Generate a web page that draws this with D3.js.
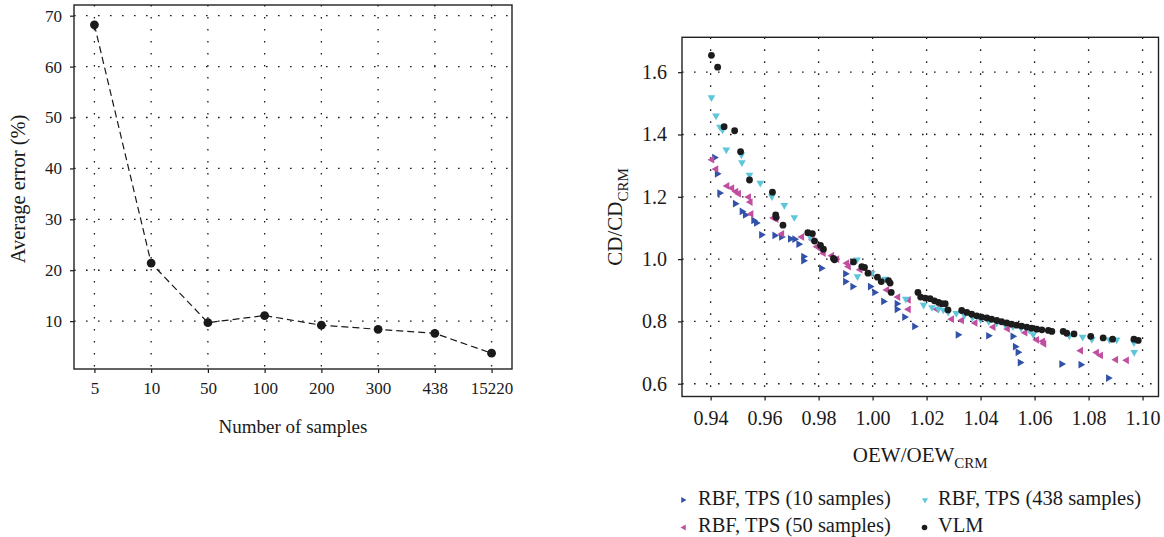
<!DOCTYPE html>
<html>
<head>
<meta charset="utf-8">
<script src="https://cdn.jsdelivr.net/npm/d3@7"></script>
<style>
  html, body { margin: 0; padding: 0; background: #fff; }
  svg { display: block; }
  text { font-family: "Liberation Serif", "Times New Roman", serif; fill: #1a1a1a; }
</style>
</head>
<body>
<svg id="chart" width="1164" height="537"></svg>
<script>
// ---------------- DATA ----------------
const sampleCategories = ["5", "10", "50", "100", "200", "300", "438", "15220"];
const averageErrors = [68.2, 21.4, 9.7, 11.1, 9.2, 8.4, 7.6, 3.7];
const errorTicks = [10, 20, 30, 40, 50, 60, 70];

const oewTicks = [0.94, 0.96, 0.98, 1.00, 1.02, 1.04, 1.06, 1.08, 1.10];
const cdTicks = [0.6, 0.8, 1.0, 1.2, 1.4, 1.6];

const rbf10 = [
  [0.9414,1.326],[0.9424,1.274],[0.9433,1.212],[0.9491,1.178],[0.9516,1.153],[0.9528,1.142],
  [0.9559,1.124],[0.9569,1.116],[0.9588,1.078],[0.9637,1.076],[0.9662,1.071],[0.9695,1.065],
  [0.9711,1.064],[0.9726,1.048],[0.9744,1.008],[0.9744,0.995],[0.9810,0.971],[0.9899,0.953],
  [0.9899,0.928],[0.9926,0.912],[0.9991,0.912],[1.0007,0.893],[1.0040,0.864],[1.0090,0.857],
  [1.0090,0.839],[1.0118,0.814],[1.0155,0.784],[1.0316,0.757],[1.0429,0.754],[1.0519,0.752],
  [1.0528,0.719],[1.0538,0.701],[1.0546,0.668],[1.0700,0.663],[1.0771,0.661],[1.0873,0.618]
];
const rbf50 = [
  [0.9405,1.319],[0.9420,1.289],[0.9461,1.235],[0.9479,1.228],[0.9494,1.217],[0.9504,1.210],
  [0.9541,1.199],[0.9547,1.183],[0.9550,1.145],[0.9633,1.132],[0.9643,1.128],[0.9664,1.081],
  [0.9738,1.071],[0.9777,1.062],[0.9794,1.040],[0.9812,1.030],[0.9818,1.019],[0.9849,1.011],
  [0.9868,1.000],[0.9905,0.987],[0.9911,0.976],[0.9954,0.966],[0.9997,0.955],[1.0053,0.901],
  [1.0094,0.878],[1.0133,0.869],[1.0133,0.839],[1.0238,0.839],[1.0293,0.807],[1.0330,0.803],
  [1.0380,0.795],[1.0447,0.782],[1.0500,0.776],[1.0565,0.764],[1.0608,0.741],[1.0630,0.736],
  [1.0635,0.728],[1.0771,0.706],[1.0830,0.700],[1.0845,0.691],[1.0901,0.677],[1.0941,0.675]
];
const rbf438 = [
  [0.9403,1.519],[0.9420,1.460],[0.9435,1.424],[0.9444,1.415],[0.9458,1.351],[0.9514,1.335],
  [0.9516,1.310],[0.9544,1.270],[0.9584,1.244],[0.9627,1.201],[0.9673,1.173],[0.9710,1.134],
  [0.9769,1.071],[0.9942,0.998],[0.9944,0.944],[0.9997,0.955],[1.0047,0.936],[1.0123,0.872],
  [1.0189,0.853],[1.0220,0.845],[1.0244,0.840],[1.0262,0.837],[1.0280,0.830],[1.0310,0.826],
  [1.0340,0.820],[1.0370,0.813],[1.0400,0.806],[1.0430,0.800],[1.0460,0.795],[1.0490,0.790],
  [1.0520,0.784],[1.0550,0.779],[1.0580,0.772],[1.0595,0.758],[1.0729,0.754],[1.0778,0.750],
  [1.0812,0.743],[1.0877,0.741],[1.0904,0.741],[1.0968,0.732],[1.0969,0.701]
];
const vlm = [
  [0.9403,1.654],[0.9426,1.616],[0.9450,1.425],[0.9489,1.412],[0.9511,1.345],[0.9544,1.254],
  [0.9629,1.215],[0.9641,1.142],[0.9643,1.134],[0.9668,1.109],[0.9760,1.085],[0.9777,1.082],
  [0.9785,1.058],[0.9807,1.044],[0.9818,1.032],[0.9855,1.002],[0.9859,0.998],[0.9929,0.991],
  [0.9960,0.976],[0.9970,0.973],[0.9983,0.955],[1.0018,0.942],[1.0032,0.928],[1.0059,0.931],
  [1.0065,0.923],[1.0069,0.893],[1.0168,0.893],[1.0178,0.878],[1.0195,0.875],[1.0213,0.873],
  [1.0229,0.866],[1.0244,0.861],[1.0256,0.857],[1.0269,0.857],[1.0279,0.837],[1.0330,0.835],
  [1.0349,0.829],[1.0367,0.823],[1.0386,0.818],[1.0404,0.814],[1.0423,0.811],[1.0441,0.807],
  [1.0460,0.803],[1.0478,0.799],[1.0497,0.795],[1.0515,0.791],[1.0534,0.788],[1.0552,0.785],
  [1.0571,0.782],[1.0589,0.778],[1.0608,0.775],[1.0627,0.773],[1.0651,0.771],[1.0664,0.768],
  [1.0706,0.768],[1.0719,0.762],[1.0746,0.760],[1.0808,0.752],[1.0854,0.747],[1.0889,0.743],
  [1.0968,0.743],[1.0984,0.739]
];

const seriesNames = ["RBF, TPS (10 samples)", "RBF, TPS (50 samples)", "RBF, TPS (438 samples)", "VLM"];
const seriesColors = ["#3251a8", "#c04fa0", "#5ec6da", "#1c1c1c"];

// ---------------- DRAW ----------------
const svg = d3.select("#chart");
const ink = "#1a1a1a";
const gridDash = "1.6 10.4";

// ===== Left chart =====
const L = { left: 74, right: 512, top: 5, bottom: 369 };
const xL = d3.scalePoint().domain(sampleCategories).range([L.left, L.right]).padding(0.36);
const yL = d3.scaleLinear().domain([0.6, 72.1]).range([L.bottom, L.top]);

const gL = svg.append("g");
gL.selectAll(".vg").data(sampleCategories).join("line")
  .attr("x1", d => xL(d)).attr("x2", d => xL(d))
  .attr("y1", L.top).attr("y2", L.bottom)
  .attr("stroke", ink).attr("stroke-width", 1.3).attr("stroke-dasharray", gridDash);
gL.selectAll(".hg").data(errorTicks).join("line")
  .attr("x1", L.left).attr("x2", L.right)
  .attr("y1", d => yL(d)).attr("y2", d => yL(d))
  .attr("stroke", ink).attr("stroke-width", 1.3).attr("stroke-dasharray", gridDash);

const axLx = gL.append("g").attr("transform", `translate(0,${L.bottom})`)
  .call(d3.axisBottom(xL).tickSize(4).tickPadding(9).tickSizeOuter(0));
const axLy = gL.append("g").attr("transform", `translate(${L.left},0)`)
  .call(d3.axisLeft(yL).tickValues(errorTicks).tickSize(4).tickPadding(8).tickSizeOuter(0));
[axLx, axLy].forEach(a => {
  a.select(".domain").remove();
  a.selectAll("line").attr("stroke", ink).attr("stroke-width", 1.2);
  a.selectAll("text").attr("font-size", 17).attr("fill", ink)
    .attr("font-family", "'Liberation Serif', serif");
});
gL.append("rect").attr("x", L.left).attr("y", L.top)
  .attr("width", L.right - L.left).attr("height", L.bottom - L.top)
  .attr("fill", "none").attr("stroke", "#222").attr("stroke-width", 1.4);

gL.append("path")
  .datum(sampleCategories.map((c, i) => [c, averageErrors[i]]))
  .attr("fill", "none").attr("stroke", ink).attr("stroke-width", 1.2)
  .attr("stroke-dasharray", "7 4")
  .attr("d", d3.line().x(d => xL(d[0])).y(d => yL(d[1])));
gL.selectAll(".pt").data(sampleCategories.map((c, i) => [c, averageErrors[i]])).join("circle")
  .attr("cx", d => xL(d[0])).attr("cy", d => yL(d[1])).attr("r", 4.4).attr("fill", ink);

gL.append("text").attr("x", (L.left + L.right) / 2).attr("y", 433)
  .attr("text-anchor", "middle").attr("font-size", 19).text("Number of samples");
gL.append("text").attr("transform", `translate(25,${(L.top + L.bottom) / 2 + 2}) rotate(-90)`)
  .attr("text-anchor", "middle").attr("font-size", 20.5).text("Average error (%)");

// ===== Right chart =====
const R = { left: 682, right: 1158.5, top: 37.3, bottom: 396.5 };
const xR = d3.scaleLinear().domain([0.9294, 1.1059]).range([R.left, R.right]);
const yR = d3.scaleLinear().domain([0.559, 1.712]).range([R.bottom, R.top]);

const gR = svg.append("g");
gR.selectAll(".vg").data(oewTicks).join("line")
  .attr("x1", d => xR(d)).attr("x2", d => xR(d))
  .attr("y1", R.top).attr("y2", R.bottom)
  .attr("stroke", ink).attr("stroke-width", 1.3).attr("stroke-dasharray", gridDash);
gR.selectAll(".hg").data(cdTicks).join("line")
  .attr("x1", R.left).attr("x2", R.right)
  .attr("y1", d => yR(d)).attr("y2", d => yR(d))
  .attr("stroke", ink).attr("stroke-width", 1.3).attr("stroke-dasharray", gridDash);

const axRx = gR.append("g").attr("transform", `translate(0,${R.bottom})`)
  .call(d3.axisBottom(xR).tickValues(oewTicks).tickFormat(d3.format(".2f")).tickSize(4).tickPadding(10).tickSizeOuter(0));
const axRy = gR.append("g").attr("transform", `translate(${R.left},0)`)
  .call(d3.axisLeft(yR).tickValues(cdTicks).tickFormat(d3.format(".1f")).tickSize(4).tickPadding(11).tickSizeOuter(0));
[axRx, axRy].forEach(a => {
  a.select(".domain").remove();
  a.selectAll("line").attr("stroke", ink).attr("stroke-width", 1.2);
  a.selectAll("text").attr("font-size", 20).attr("fill", ink)
    .attr("font-family", "'Liberation Serif', serif");
});
gR.append("rect").attr("x", R.left).attr("y", R.top)
  .attr("width", R.right - R.left).attr("height", R.bottom - R.top)
  .attr("fill", "none").attr("stroke", "#222").attr("stroke-width", 1.4);

const tri = d3.symbol().type(d3.symbolTriangle).size(26);
const plotArea = gR.append("g");
function triangles(data, color, rot) {
  plotArea.append("g").selectAll("path").data(data).join("path")
    .attr("d", tri)
    .attr("transform", d => `translate(${xR(d[0])},${yR(d[1])}) rotate(${rot})`)
    .attr("fill", color);
}
triangles(rbf10, seriesColors[0], 90);
triangles(rbf50, seriesColors[1], -90);
triangles(rbf438, seriesColors[2], 180);
plotArea.append("g").selectAll("circle").data(vlm).join("circle")
  .attr("cx", d => xR(d[0])).attr("cy", d => yR(d[1])).attr("r", 3.4)
  .attr("fill", seriesColors[3]);

const xLab = gR.append("text").attr("x", (R.left + R.right) / 2).attr("y", 462)
  .attr("text-anchor", "middle").attr("font-size", 21);
xLab.append("tspan").text("OEW/OEW");
xLab.append("tspan").attr("font-size", 15).attr("dy", 6).text("CRM");

const yLab = gR.append("text")
  .attr("transform", `translate(621.5,${(R.top + R.bottom) / 2}) rotate(-90)`)
  .attr("text-anchor", "middle").attr("font-size", 21);
yLab.append("tspan").text("CD/CD");
yLab.append("tspan").attr("font-size", 15).attr("dy", 6).text("CRM");

// ===== Legend =====
const legendPos = [
  { mx: 683, my: 500, tx: 698, ty: 505 },
  { mx: 684, my: 527.5, tx: 698, ty: 532 },
  { mx: 925, my: 500, tx: 938, ty: 505 },
  { mx: 924.5, my: 527.5, tx: 938, ty: 532 }
];
const legendRot = [90, -90, 180, null];
const lg = svg.append("g");
seriesNames.forEach((name, i) => {
  const p = legendPos[i];
  if (legendRot[i] === null) {
    lg.append("circle").attr("cx", p.mx).attr("cy", p.my).attr("r", 2.8).attr("fill", seriesColors[i]);
  } else {
    lg.append("path").attr("d", d3.symbol().type(d3.symbolTriangle).size(16)())
      .attr("transform", `translate(${p.mx},${p.my}) rotate(${legendRot[i]})`)
      .attr("fill", seriesColors[i]);
  }
  lg.append("text").attr("x", p.tx).attr("y", p.ty).attr("font-size", 20.5).text(name);
});
</script>
</body>
</html>
